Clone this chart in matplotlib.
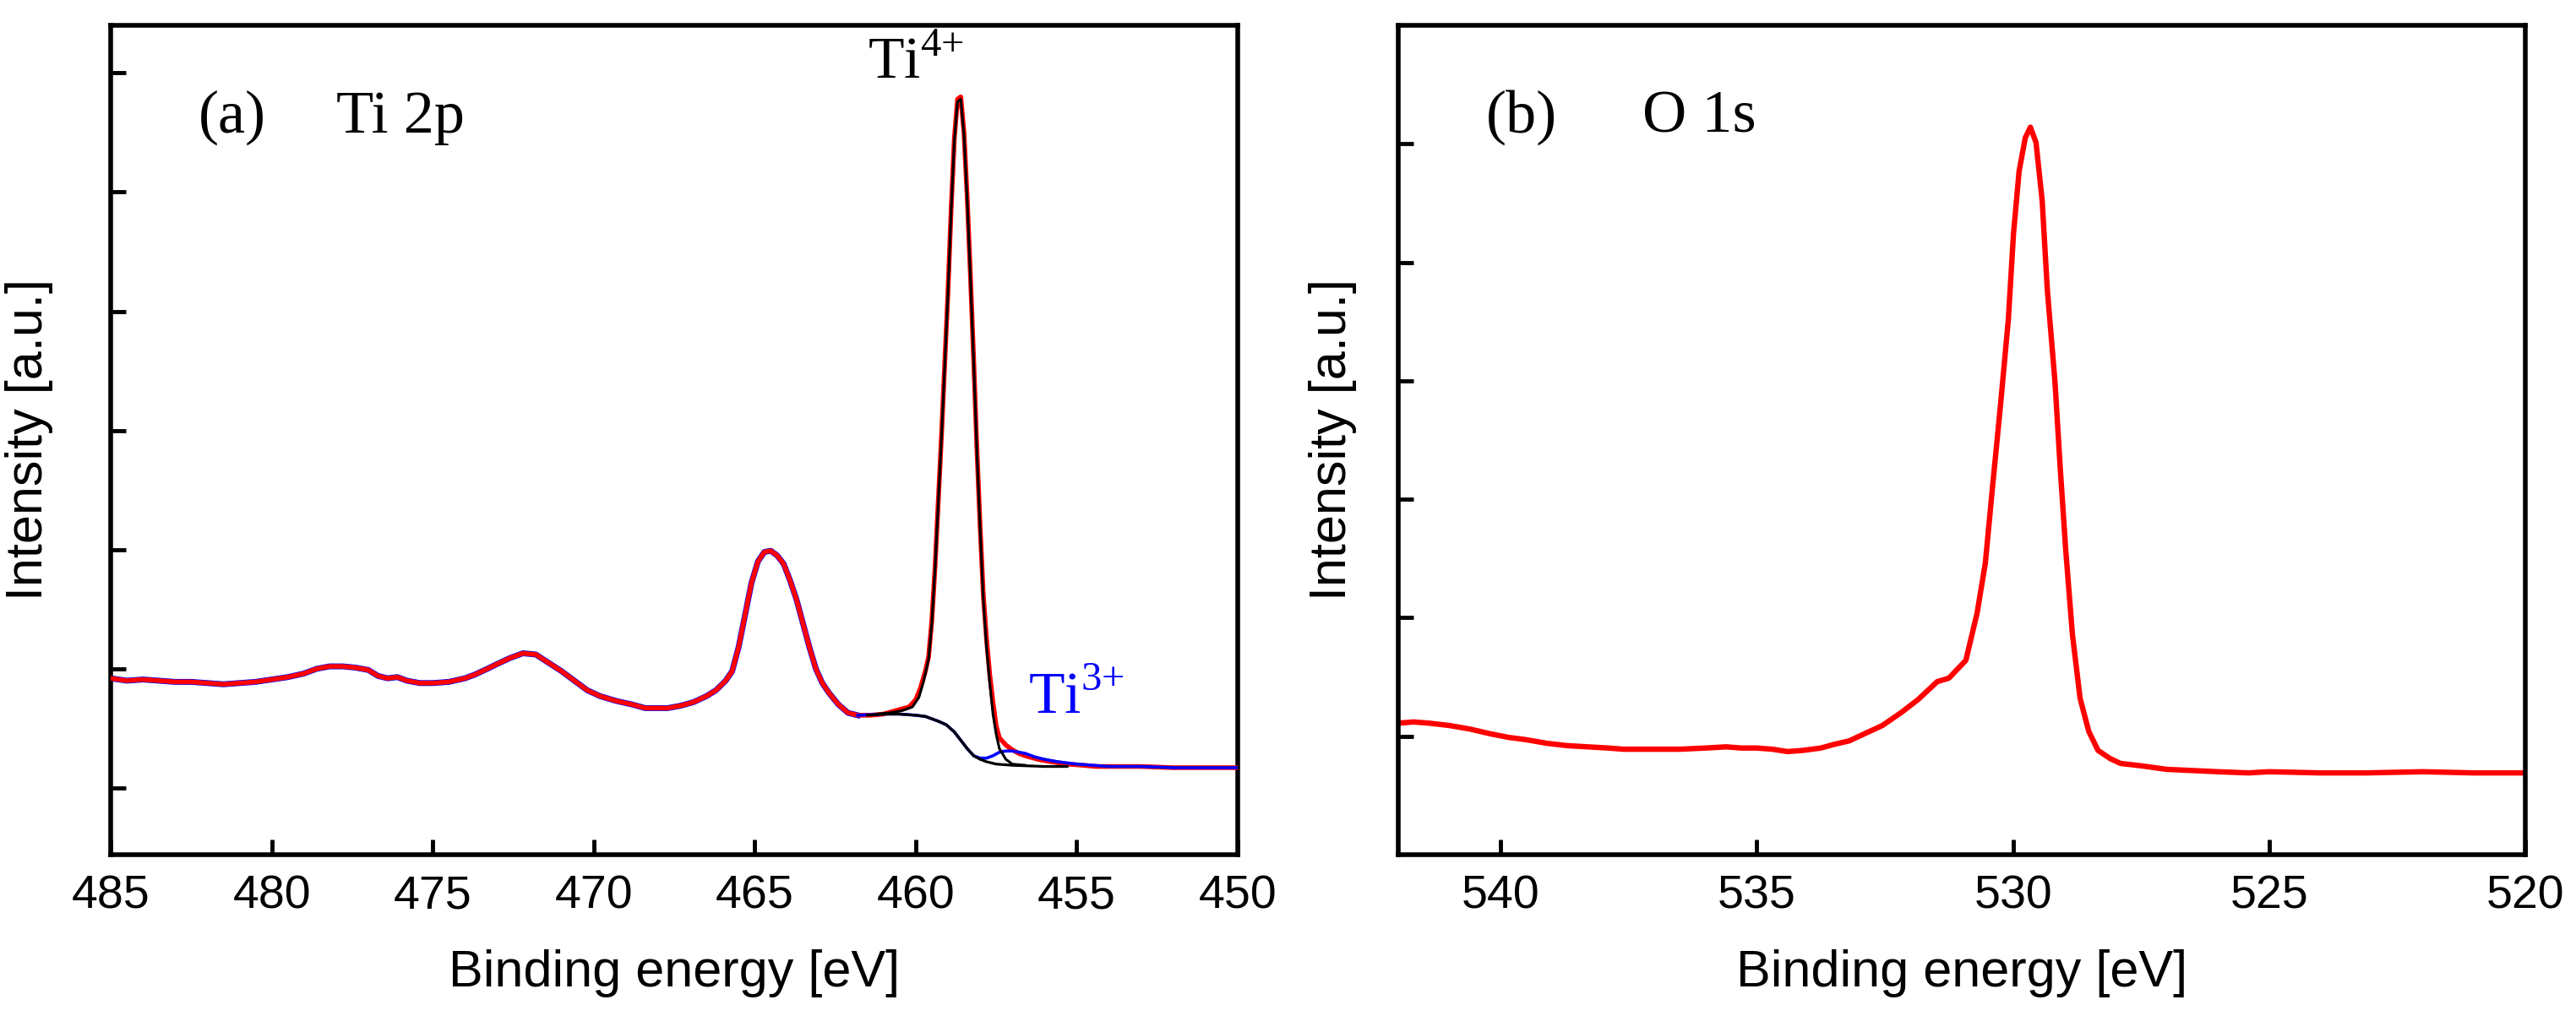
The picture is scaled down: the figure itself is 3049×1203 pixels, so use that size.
import numpy as np
from matplotlib import pyplot as plt

plt.rcParams['font.family'] = ['Liberation Sans', 'DejaVu Sans']
plt.rcParams['mathtext.fontset'] = 'custom'
plt.rcParams['mathtext.rm'] = 'Liberation Serif'

# ---- (a) Ti 2p ----
ti_be = [485.0, 484.5, 484.0, 483.5, 483.0, 482.5, 482.0, 481.5, 481.0, 480.5,
         480.0, 479.5, 479.0, 478.6, 478.2, 477.8, 477.4, 477.0, 476.7, 476.4,
         476.1, 475.8, 475.4, 475.0, 474.5, 474.0, 473.7, 473.3, 473.0, 472.6,
         472.2, 471.8, 471.4, 471.0, 470.6, 470.2, 469.8, 469.3, 468.8, 468.4,
         468.0, 467.7, 467.3, 466.9, 466.5, 466.2, 465.9, 465.7, 465.5, 465.3,
         465.1, 464.9, 464.7, 464.5, 464.3, 464.1, 463.9, 463.7, 463.5, 463.3,
         463.1, 462.9, 462.7, 462.4, 462.1, 461.8, 461.4, 461.0, 460.6, 460.2,
         460.0, 459.85, 459.7, 459.6, 459.5, 459.4, 459.3, 459.2, 459.1, 459.0,
         458.9, 458.8, 458.7, 458.6, 458.5, 458.4, 458.3, 458.2, 458.1, 458.0,
         457.9, 457.8, 457.7, 457.6, 457.5, 457.4, 457.2, 457.0, 456.8, 456.6,
         456.2, 455.8, 455.3, 454.8, 454.4, 454.0, 453.0, 452.0, 451.0, 450.0]
ti_int = [0.92, 0.90, 0.91, 0.90, 0.89, 0.89, 0.88, 0.87, 0.88, 0.89,
          0.91, 0.93, 0.96, 1.00, 1.02, 1.02, 1.01, 0.99, 0.94, 0.92,
          0.93, 0.90, 0.88, 0.88, 0.89, 0.92, 0.95, 1.00, 1.04, 1.09,
          1.13, 1.12, 1.05, 0.98, 0.90, 0.82, 0.77, 0.73, 0.70, 0.67,
          0.67, 0.67, 0.69, 0.72, 0.77, 0.82, 0.90, 0.98, 1.18, 1.45,
          1.72, 1.90, 1.98, 1.99, 1.95, 1.88, 1.74, 1.58, 1.38, 1.18,
          1.00, 0.88, 0.80, 0.70, 0.63, 0.61, 0.61, 0.62, 0.65, 0.68,
          0.74, 0.84, 0.98, 1.10, 1.40, 1.85, 2.40, 2.95, 3.55, 4.15,
          4.85, 5.45, 5.78, 5.80, 5.50, 4.95, 4.30, 3.60, 2.85, 2.20,
          1.62, 1.25, 0.95, 0.72, 0.52, 0.42, 0.36, 0.32, 0.29, 0.27,
          0.24, 0.22, 0.20, 0.19, 0.18, 0.18, 0.18, 0.17, 0.17, 0.17]

# Shirley background
bg_be = [461.5, 461.0, 460.5, 460.0, 459.7, 459.5, 459.3, 459.05, 458.8, 458.6,
         458.4, 458.2, 458.0, 457.8, 457.5, 457.0, 456.0, 455.3]
bg_int = [0.61, 0.62, 0.62, 0.61, 0.60, 0.58, 0.56, 0.53, 0.47, 0.40,
          0.33, 0.27, 0.24, 0.22, 0.20, 0.19, 0.18, 0.18]

# Ti4+ component
ti4_be = [461.2, 460.8, 460.4, 460.1, 459.9, 459.75, 459.6, 459.5, 459.4, 459.3,
          459.2, 459.1, 459.0, 458.9, 458.8, 458.7, 458.6, 458.5, 458.4, 458.3,
          458.2, 458.1, 458.0, 457.9, 457.8, 457.7, 457.6, 457.5, 457.4, 457.2,
          457.0, 456.6]
ti4_int = [0.62, 0.63, 0.65, 0.68, 0.76, 0.90, 1.08, 1.38, 1.83, 2.38,
           2.93, 3.53, 4.13, 4.83, 5.43, 5.76, 5.78, 5.48, 4.93, 4.28,
           3.58, 2.83, 2.18, 1.58, 1.18, 0.88, 0.62, 0.45, 0.33, 0.24,
           0.20, 0.19]

# Ti3+ component
ti3_be = [461.8, 461.0, 460.5, 460.0, 459.7, 459.5, 459.3, 459.05, 458.8, 458.6,
          458.4, 458.2, 458.0, 457.8, 457.6, 457.4, 457.2, 457.0, 456.8, 456.6,
          456.3, 456.0, 455.6, 455.0, 454.0, 453.0, 452.0, 451.0, 450.0]
ti3_int = [0.61, 0.62, 0.62, 0.61, 0.60, 0.58, 0.56, 0.53, 0.47, 0.40,
           0.33, 0.27, 0.25, 0.25, 0.27, 0.30, 0.31, 0.31, 0.30, 0.29,
           0.26, 0.24, 0.22, 0.20, 0.18, 0.18, 0.17, 0.17, 0.17]

# ---- (b) O 1s ----
o_be = [542.0, 541.7, 541.4, 541.0, 540.6, 540.2, 539.85, 539.5, 539.1, 538.7,
        538.3, 537.9, 537.6, 537.0, 536.5, 536.0, 535.6, 535.3, 535.0, 534.7,
        534.4, 534.1, 533.75, 533.5, 533.2, 532.9, 532.55, 532.18, 531.85, 531.48,
        531.25, 530.92, 530.7, 530.54, 530.4, 530.24, 530.09, 529.99, 529.88, 529.76,
        529.66, 529.55, 529.43, 529.33, 529.18, 529.08, 528.97, 528.84, 528.69, 528.52,
        528.34, 528.1, 527.9, 527.5, 527.0, 526.5, 526.0, 525.4, 525.0, 524.0,
        523.1, 522.0, 521.0, 520.0]
o_int = [0.11, 0.12, 0.11, 0.09, 0.06, 0.02, -0.01, -0.03, -0.06, -0.08,
         -0.09, -0.10, -0.11, -0.11, -0.11, -0.10, -0.09, -0.10, -0.10, -0.11,
         -0.13, -0.12, -0.10, -0.07, -0.04, 0.02, 0.09, 0.20, 0.31, 0.46,
         0.49, 0.64, 1.04, 1.46, 2.10, 2.81, 3.52, 4.24, 4.77, 5.05,
         5.14, 5.01, 4.52, 3.77, 2.99, 2.28, 1.57, 0.86, 0.32, 0.04,
         -0.12, -0.19, -0.23, -0.25, -0.28, -0.29, -0.30, -0.31, -0.30, -0.31,
         -0.31, -0.30, -0.31, -0.31]

ti_xticks = [485, 480, 475, 470, 465, 460, 455, 450]
o_xticks = [540, 535, 530, 525, 520]

fig = plt.figure(figsize=(30.49, 12.03), dpi=100)
ax1 = fig.add_axes([0.04297, 0.1588, 0.4375, 0.8163])
ax2 = fig.add_axes([0.5428, 0.1588, 0.4375, 0.8163])

ti_be_a = np.array(ti_be)
ti_int_a = np.array(ti_int)
env = ti_be_a >= 461.8

ax1.plot(ti_be_a[env], ti_int_a[env], color='#0000ff', lw=5.0, zorder=2)
ax1.plot(ti_be, ti_int, color='#ff0000', lw=4.0, zorder=3)
ax1.plot(ti3_be, ti3_int, color='#0000ff', lw=2.6, zorder=4)
ax1.plot(bg_be, bg_int, color='black', lw=2.3, zorder=5)
ax1.plot(ti4_be, ti4_int, color='black', lw=2.2, zorder=5)

ax1.set_xlim(485, 450)
ax1.set_ylim(-0.56, 6.40)
ax1.set_xticks(ti_xticks)
ax1.set_yticks(range(7))

ax2.plot(o_be, o_int, color='#ff0000', lw=4.6)
ax2.set_xlim(542, 520)
ax2.set_ylim(-1.0, 6.0)
ax2.set_xticks(o_xticks)
ax2.set_yticks(range(6))

for ax in (ax1, ax2):
    for s in ax.spines.values():
        s.set_linewidth(4)
    ax.tick_params(direction='in', length=13, width=3.5, labelsize=40,
                   pad=17, top=False, right=False)
    ax.set_yticklabels([])
    ax.set_xlabel('Binding energy [eV]', fontsize=44, labelpad=26)

ax1.set_ylabel('Intensity [a.u.]', fontsize=44, labelpad=32)
ax2.set_ylabel('Intensity [a.u.]', fontsize=44, labelpad=18)

serif = ['Liberation Serif', 'DejaVu Serif']
ax1.text(0.078, 0.871, '(a)', transform=ax1.transAxes, fontsize=52, family=serif)
ax1.text(0.200, 0.871, 'Ti 2p', transform=ax1.transAxes, fontsize=52, family=serif)
ax2.text(0.078, 0.871, '(b)', transform=ax2.transAxes, fontsize=52, family=serif)
ax2.text(0.217, 0.871, 'O 1s', transform=ax2.transAxes, fontsize=52, family=serif)

ax1.text(461.5, 5.95, r'Ti$^{4{+}}$', fontsize=50, family=serif, color='black')
ax1.text(456.5, 0.62, r'Ti$^{3{+}}$', fontsize=50, family=serif, color='#0000ff')

fig.savefig('out.png', dpi=100)
